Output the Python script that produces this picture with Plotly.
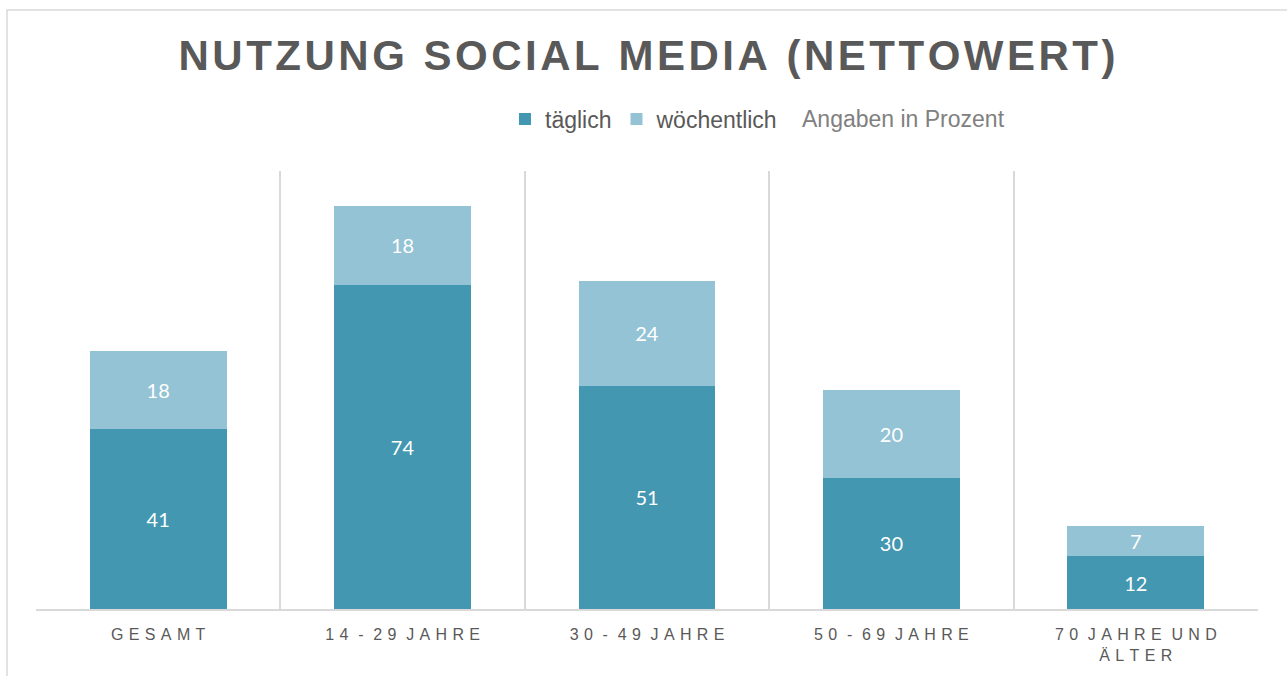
import plotly.graph_objects as go

# Source values (percent)
categories = ["GESAMT", "14 - 29 JAHRE", "30 - 49 JAHRE", "50 - 69 JAHRE", "70 JAHRE UND<br>ÄLTER"]
taeglich = [41, 74, 51, 30, 12]
woechentlich = [18, 18, 24, 20, 7]
series_names = ["täglich", "wöchentlich"]

DARK = "#4397B0"
LIGHT = "#93C3D5"
TEXT = "#595959"
GRID = "#D9D9D9"


def spaced(label, gap, tight_words=True):
    """Imitate letter spacing by putting a narrow space between characters."""
    lines = label.split("<br>")
    out = []
    for line in lines:
        s = gap.join(line)
        if tight_words:
            # a word space only gets one extra gap, not one on each side
            s = s.replace(gap + " " + gap, " " + gap)
        out.append(s)
    return "<br>".join(out)


tick_text = [spaced(c, "\u2004") for c in categories]
title_text = spaced("NUTZUNG SOCIAL MEDIA (NETTOWERT)", "\u200a", tight_words=False)

fig = go.Figure()
for name, vals, col in [(series_names[0], taeglich, DARK), (series_names[1], woechentlich, LIGHT)]:
    fig.add_trace(go.Bar(
        x=categories, y=vals, name=name,
        marker=dict(color=col, line=dict(width=0)),
        text=vals, texttemplate="%{text}",
        textposition="inside", insidetextanchor="middle", textangle=0,
        textfont=dict(family="Lato, Open Sans, sans-serif", size=20, color="white"),
        hoverinfo="skip",
    ))

fig.update_layout(
    width=1287, height=676,
    margin=dict(l=36, r=29, t=171, b=67),
    paper_bgcolor="white", plot_bgcolor="white",
    barmode="stack", bargap=0.44,
    uniformtext=dict(mode="show", minsize=20),
    title=dict(
        text=title_text, x=0.5, xanchor="center", xref="paper",
        y=1 - 55 / 676, yanchor="middle", yref="container",
        font=dict(family="Liberation Sans, Arial, sans-serif", size=42, color=TEXT, weight="bold"),
    ),
    legend=dict(
        orientation="h", xref="container", yref="container",
        x=505 / 1287, xanchor="left", y=1 - 119 / 676, yanchor="middle",
        font=dict(family="Liberation Sans, Arial, sans-serif", size=23, color=TEXT),
        itemclick=False, itemdoubleclick=False, traceorder="normal",
        bgcolor="rgba(0,0,0,0)",
    ),
    font=dict(family="Liberation Sans, Arial, sans-serif", color=TEXT),
    xaxis=dict(
        type="category", tickvals=categories, ticktext=tick_text,
        tickson="boundaries", showgrid=True, gridcolor=GRID, gridwidth=1.5,
        showline=True, linecolor=GRID, linewidth=1.5,
        ticks="", tickfont=dict(size=16, color=TEXT), ticklabelstandoff=10,
        fixedrange=True,
    ),
    yaxis=dict(range=[0, 100], visible=False, fixedrange=True),
    annotations=[dict(
        text="Angaben in Prozent", xref="paper", yref="paper",
        x=(800 - 36) / 1222, xanchor="left", y=(609 - 119) / 438, yanchor="middle",
        showarrow=False, font=dict(family="Liberation Sans, Arial, sans-serif", size=23, color="#808080"),
    )],
    shapes=[dict(
        type="rect", xref="paper", yref="paper", layer="below",
        x0=(7 - 36) / 1222, x1=1.2, y0=-0.5, y1=(609 - 10) / 438,
        line=dict(color=GRID, width=1.5), fillcolor="rgba(0,0,0,0)",
    )],
)

fig.write_html("out.html")
